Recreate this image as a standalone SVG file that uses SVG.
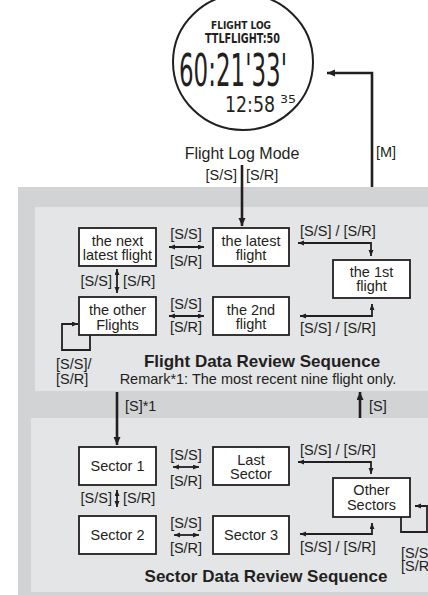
<svg xmlns="http://www.w3.org/2000/svg" width="428" height="595" viewBox="0 0 428 595">
<style>
text{font-family:"Liberation Sans",Arial,sans-serif;fill:#231f20}
.t{font-size:14.5px}
.m{text-anchor:middle}
.e{text-anchor:end}
.h{font-size:17px;font-weight:bold;text-anchor:middle}
.lcd{font-family:"DejaVu Sans Condensed","DejaVu Sans",sans-serif}
.b{font-weight:bold}
.box{fill:#fff;stroke:#231f20;stroke-width:1.8}
.c{fill:none;stroke:#231f20;stroke-width:1.8}
.k{fill:none;stroke:#231f20;stroke-width:2.6}
</style>
<defs>
<marker id="big" markerUnits="userSpaceOnUse" markerWidth="10" markerHeight="8" refX="8" refY="3.5" orient="auto"><path d="M0,0 L8,3.5 L0,7 z" fill="#231f20"/></marker>
<marker id="sm" markerUnits="userSpaceOnUse" markerWidth="8" markerHeight="6" refX="6" refY="2.5" orient="auto-start-reverse"><path d="M0,0 L6,2.5 L0,5 z" fill="#231f20"/></marker>
</defs>
<rect x="0" y="0" width="428" height="595" fill="#fff"/>
<g id="panels">
<rect x="18" y="187" width="410" height="408" fill="#d2d3d5"/>
<rect x="35" y="207" width="393" height="184" fill="#e4e5e7"/>
<rect x="31" y="418" width="397" height="174" fill="#e4e5e7"/>
</g>
<g id="watch">
<ellipse cx="243" cy="62" rx="70" ry="68" fill="#fff" stroke="#231f20" stroke-width="2"/>
<text class="lcd b" x="241" y="29" font-size="10.5" text-anchor="middle" textLength="60" lengthAdjust="spacingAndGlyphs">FLIGHT LOG</text>
<text class="lcd b" x="205" y="43" font-size="14.5" textLength="75" lengthAdjust="spacingAndGlyphs">TTLFLIGHT:50</text>
<text class="lcd" x="179" y="86" font-size="44" textLength="108" lengthAdjust="spacingAndGlyphs">60:21'33'</text>
<text class="lcd" x="225" y="112" font-size="22" textLength="50" lengthAdjust="spacingAndGlyphs">12:58</text>
<text class="lcd" x="280" y="103" font-size="11" textLength="16" lengthAdjust="spacingAndGlyphs">35</text>
</g>
<g id="mode-label">
<text x="242" y="159" font-size="16" class="m">Flight Log Mode</text>
<text class="t e" x="237" y="180">[S/S]</text>
<text class="t" x="246" y="180">[S/R]</text>
<text class="t" x="376" y="157">[M]</text>
</g>
<g id="connectors">
<path class="k" d="M372,187 V73 H327" marker-end="url(#big)"/>
<path class="k" d="M242,165 V226" marker-end="url(#big)"/>
<path class="c" d="M169,247 H204" marker-start="url(#sm)" marker-end="url(#sm)"/>
<path class="c" d="M169,316 H204" marker-start="url(#sm)" marker-end="url(#sm)"/>
<path class="c" d="M117,269 V293" marker-start="url(#sm)" marker-end="url(#sm)"/>
<path class="c" d="M298,243 H371 V256" marker-start="url(#sm)" marker-end="url(#sm)"/>
<path class="c" d="M372,304 V316 H300" marker-start="url(#sm)" marker-end="url(#sm)"/>
<path class="c" d="M90,335 V350 H62 V324 H78" marker-end="url(#sm)"/>
<path class="k" d="M117,392 V445" marker-end="url(#big)"/>
<path class="k" d="M360,418 V392" marker-end="url(#big)"/>
<path class="c" d="M173,467 H199" marker-start="url(#sm)" marker-end="url(#sm)"/>
<path class="c" d="M174,535 H199" marker-start="url(#sm)" marker-end="url(#sm)"/>
<path class="c" d="M117,490 V507" marker-start="url(#sm)" marker-end="url(#sm)"/>
<path class="c" d="M298,462 H371 V474" marker-start="url(#sm)" marker-end="url(#sm)"/>
<path class="c" d="M372,523 V534 H300" marker-start="url(#sm)" marker-end="url(#sm)"/>
<path class="c" d="M401,517 V532 H427 V506 H415" marker-end="url(#sm)"/>
</g>
<g id="flight-labels">
<text class="t m" x="186" y="239">[S/S]</text>
<text class="t m" x="186" y="266">[S/R]</text>
<text class="t m" x="186" y="309">[S/S]</text>
<text class="t m" x="186" y="332">[S/R]</text>
<text class="t e" x="112" y="286">[S/S]</text>
<text class="t" x="123" y="286">[S/R]</text>
<text class="t" x="300" y="236">[S/S] / [S/R]</text>
<text class="t" x="300" y="333">[S/S] / [S/R]</text>
<text class="t" x="56" y="369">[S/S]/</text>
<text class="t" x="56" y="384">[S/R]</text>
<text class="h" x="262" y="367">Flight Data Review Sequence</text>
<text class="t m" x="258" y="384">Remark*1: The most recent nine flight only.</text>
<text class="t" x="125" y="411">[S]*1</text>
<text class="t" x="369" y="411">[S]</text>
</g>
<g id="sector-labels">
<text class="t m" x="186" y="460">[S/S]</text>
<text class="t m" x="186" y="486">[S/R]</text>
<text class="t e" x="112" y="503">[S/S]</text>
<text class="t" x="123" y="503">[S/R]</text>
<text class="t m" x="186" y="528">[S/S]</text>
<text class="t m" x="186" y="553">[S/R]</text>
<text class="t" x="300" y="455">[S/S] / [S/R]</text>
<text class="t" x="300" y="552">[S/S] / [S/R]</text>
<text class="t" x="401" y="558">[S/S]/</text>
<text class="t" x="401" y="571">[S/R]</text>
<text class="h" x="266" y="582">Sector Data Review Sequence</text>
</g>
<g id="node-next-latest"><rect class="box" x="79" y="228" width="77" height="38"/><text class="t m" x="117.5" y="246">the next</text><text class="t m" x="117.5" y="260">latest flight</text></g>
<g id="node-latest"><rect class="box" x="213" y="228" width="76" height="38"/><text class="t m" x="251" y="246">the latest</text><text class="t m" x="251" y="260">flight</text></g>
<g id="node-1st"><rect class="box" x="333" y="260" width="77" height="38"/><text class="t m" x="371.5" y="277">the 1st</text><text class="t m" x="371.5" y="291">flight</text></g>
<g id="node-other-flights"><rect class="box" x="79" y="297" width="77" height="38"/><text class="t m" x="117.5" y="315">the other</text><text class="t m" x="117.5" y="330">Flights</text></g>
<g id="node-2nd"><rect class="box" x="213" y="297" width="76" height="38"/><text class="t m" x="251" y="315">the 2nd</text><text class="t m" x="251" y="329">flight</text></g>
<g id="node-sector1"><rect class="box" x="79" y="447" width="77" height="38"/><text class="t m" x="117.5" y="471">Sector 1</text></g>
<g id="node-last-sector"><rect class="box" x="213" y="447" width="76" height="38"/><text class="t m" x="251" y="465">Last</text><text class="t m" x="251" y="479">Sector</text></g>
<g id="node-other-sectors"><rect class="box" x="333" y="478" width="77" height="39"/><text class="t m" x="371.5" y="495">Other</text><text class="t m" x="371.5" y="510">Sectors</text></g>
<g id="node-sector2"><rect class="box" x="79" y="516" width="77" height="38"/><text class="t m" x="117.5" y="540">Sector 2</text></g>
<g id="node-sector3"><rect class="box" x="213" y="516" width="76" height="38"/><text class="t m" x="251" y="540">Sector 3</text></g>
</svg>
